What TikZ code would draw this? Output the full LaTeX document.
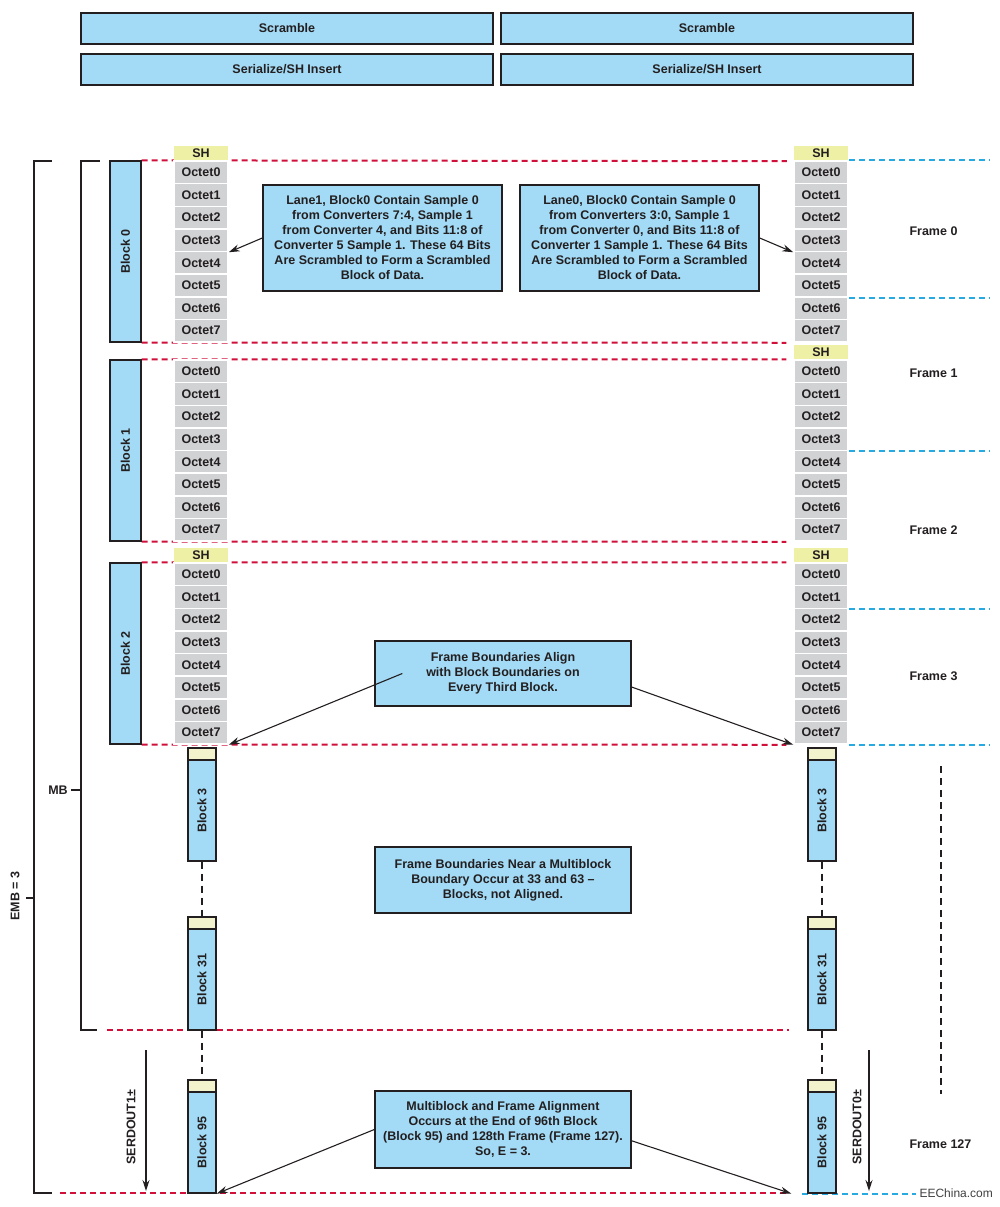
\documentclass[tikz,border=0pt]{standalone}
\usepackage{fontspec}
\setmainfont{Liberation Sans}
\usetikzlibrary{positioning,calc,backgrounds,arrows.meta}

\definecolor{boxblue}{HTML}{A3DAF5}
\definecolor{octgray}{HTML}{D1D2D4}
\definecolor{shyellow}{HTML}{EEF0A6}
\definecolor{capyellow}{HTML}{F2F2CC}
\definecolor{mbred}{HTML}{D0103A}
\definecolor{framecyan}{HTML}{27AAE1}
\definecolor{inkdark}{HTML}{231F20}

\begin{document}
\begin{tikzpicture}[
    x=1pt, y=-1pt,
    font=\fontsize{12.5}{15}\selectfont\bfseries,
    text=inkdark,
    wide/.style={rectangle, draw=inkdark, fill=boxblue, line width=1.4pt, minimum width=412pt, minimum height=31pt, inner sep=0pt},
    octet/.style={rectangle, draw=white, fill=octgray, line width=1.5pt, minimum width=54pt, minimum height=22.625pt, inner sep=0pt},
    shcell/.style={rectangle, fill=shyellow, minimum width=54pt, minimum height=15pt, inner sep=0pt},
    bigblock/.style={rectangle, draw=inkdark, fill=boxblue, line width=1.3pt, minimum width=31pt, minimum height=181pt, inner sep=0pt},
    smallblock/.style={rectangle, draw=inkdark, fill=boxblue, line width=1.3pt, minimum width=28pt, minimum height=101pt, inner sep=0pt},
    blockcap/.style={rectangle, draw=inkdark, fill=capyellow, line width=1.3pt, minimum width=28pt, minimum height=12pt, inner sep=0pt},
    note/.style={rectangle, draw=inkdark, fill=boxblue, line width=1.4pt, align=center, inner sep=0pt},
    redline/.style={draw=mbred, line width=2pt, dash pattern=on 6pt off 4pt},
    blueline/.style={draw=framecyan, line width=2pt, dash pattern=on 6pt off 4pt},
    linkdash/.style={draw=inkdark, line width=1.2pt, dash pattern=on 7pt off 5pt},
    bracket/.style={draw=inkdark, line width=1.3pt},
    arrow/.style={-{Stealth[length=11pt,width=7pt]}, draw=inkdark, line width=1.1pt}
]
    \useasboundingbox (0,0) rectangle (999,1207);

    % Top stages
    \node[wide] (scrL) at (287,28.5) {Scramble};
    \node[wide] (scrR) at (707,28.5) {Scramble};
    \node[wide] (serL) at (287,69.5) {Serialize/SH Insert};
    \node[wide] (serR) at (707,69.5) {Serialize/SH Insert};

    % Sync headers
    \node[shcell] (lsh0) at (201,153.5) {SH};
    \node[shcell] (lsh2) at (201,555.5) {SH};
    \node[shcell] (rsh0) at (821,153.5) {SH};
    \node[shcell] (rsh1) at (821,352.5) {SH};
    \node[shcell] (rsh2) at (821,555.5) {SH};

    % Octets of blocks 0 to 2
    \foreach \b/\ytop in {0/161,1/360,2/563} {
        \foreach \i in {0,...,7} {
            \node[octet] (l\b-\i) at (201,{\ytop+11.3125+\i*22.625}) {Octet\i};
            \node[octet] (r\b-\i) at (821,{\ytop+11.3125+\i*22.625}) {Octet\i};
        }
    }

    % Large blocks
    \node[bigblock] (blk0) at (125.5,251.5) {\rotatebox{90}{Block 0}};
    \node[bigblock] (blk1) at (125.5,450.5) {\rotatebox{90}{Block 1}};
    \node[bigblock] (blk2) at (125.5,653.5) {\rotatebox{90}{Block 2}};

    % Small blocks
    \foreach \n/\ytop in {3/748,31/917,95/1080} {
        \node[blockcap] (lcap\n) at (202,{\ytop+6}) {};
        \node[smallblock] (lblk\n) at (202,{\ytop+12+50.5}) {\rotatebox{90}{Block \n}};
        \node[blockcap] (rcap\n) at (822,{\ytop+6}) {};
        \node[smallblock] (rblk\n) at (822,{\ytop+12+50.5}) {\rotatebox{90}{Block \n}};
    }
    \draw[linkdash] (lblk3.south) -- (lcap31.north);
    \draw[linkdash] (lblk31.south) -- (lcap95.north);
    \draw[linkdash] (rblk3.south) -- (rcap31.north);
    \draw[linkdash] (rblk31.south) -- (rcap95.north);

    % Notes
    \node[note, minimum width=239pt, minimum height=106pt] (noteL) at (382.5,238)
        {Lane1, Block0 Contain Sample 0\\from Converters 7:4, Sample 1\\from Converter 4, and Bits 11:8 of\\Converter 5 Sample 1. These 64 Bits\\Are Scrambled to Form a Scrambled\\Block of Data.};
    \node[note, minimum width=239pt, minimum height=106pt] (noteR) at (639.5,238)
        {Lane0, Block0 Contain Sample 0\\from Converters 3:0, Sample 1\\from Converter 0, and Bits 11:8 of\\Converter 1 Sample 1. These 64 Bits\\Are Scrambled to Form a Scrambled\\Block of Data.};
    \node[note, minimum width=256pt, minimum height=65pt] (noteA) at (503,673.5)
        {Frame Boundaries Align\\with Block Boundaries on\\Every Third Block.};
    \node[note, minimum width=256pt, minimum height=66pt] (noteD) at (503,880)
        {Frame Boundaries Near a Multiblock\\Boundary Occur at 33 and 63 --\\Blocks, not Aligned.};
    \node[note, minimum width=256pt, minimum height=77pt] (noteE) at (503,1129.5)
        {Multiblock and Frame Alignment\\Occurs at the End of 96th Block\\(Block 95) and 128th Frame (Frame 127).\\So, E = 3.};

    \draw[arrow] (noteL.west) -- (l0-3.south east);
    \draw[arrow] (noteR.east) -- (r0-3.south west);
    \draw[arrow] ([xshift=28pt]noteA.west) -- (l2-7.south east);
    \draw[arrow] (noteA.-6) -- (r2-7.south west);
    \coordinate[left=16pt of rblk95.south west] (tipE);
    \draw[arrow] (noteE.west) -- (lblk95.south east);
    \draw[arrow] (noteE.-5) -- (tipE);

    % Frame labels
    \node[anchor=west] (fr0) at (906,231) {Frame 0};
    \node[anchor=west] (fr1) at (906,373) {Frame 1};
    \node[anchor=west] (fr2) at (906,530.5) {Frame 2};
    \node[anchor=west] (fr3) at (906,676) {Frame 3};
    \node[anchor=west] (fr127) at (906,1144) {Frame 127};
    \node[anchor=west, font=\fontsize{12}{14}\selectfont\mdseries, text=black!75] (eec) at (916,1193) {EEChina.com};

    % Vertical dashed continuation
    \coordinate (vtop) at (941,766);
    \coordinate (vbot) at (941,1094);
    \draw[linkdash] (vtop) -- (vbot);

    % Serial outputs
    \coordinate (s1top) at (146,1050);
    \coordinate (s1bot) at (146,1191);
    \draw[arrow] (s1top) -- (s1bot);
    \node (serd1) at (131,1127) {\rotatebox{90}{SERDOUT1±}};
    \coordinate (s0top) at (869,1050);
    \coordinate (s0bot) at (869,1191);
    \draw[arrow] (s0top) -- (s0bot);
    \node (serd0) at (857,1127) {\rotatebox{90}{SERDOUT0±}};

    % EMB and MB brackets
    \node (emb) at (15,896) {\rotatebox{90}{EMB = 3}};
    \draw[bracket] (52,161) -- (34,161) -- (34,1193) -- (52,1193);
    \draw[bracket] (34,898) -- (26,898);
    \node (mb) at (58,790) {MB};
    \draw[bracket] (100,161) -- (81,161) -- (81,1030) -- (97,1030);
    \draw[bracket] (81,790) -- (mb.east);
    \coordinate (mbfoot) at (81,1030);
    \coordinate (embfoot) at (34,1193);
    \coordinate (fedge) at (990,0);

    % Block and frame boundaries
    \begin{scope}[on background layer]
        \draw[redline, shorten >=7pt] (blk0.north east) -- (rsh0.south west);
        \draw[redline, shorten >=7pt] (blk0.south east) -- (r0-7.south west);
        \draw[redline, shorten >=7pt] (blk1.north east) -- (r1-0.north west);
        \draw[redline, shorten >=7pt] (blk1.south east) -- (r1-7.south west);
        \draw[redline, shorten >=7pt] (blk2.north east) -- (r2-0.north west);
        \draw[redline, shorten >=7pt] (blk2.south east) -- (r2-7.south west);
        \draw[redline, shorten <=26pt, shorten >=18pt] (mbfoot) -- (mbfoot -| rblk31.west);
        \draw[redline, shorten <=26pt, shorten >=18pt] (embfoot) -- (embfoot -| rblk95.west);
        \foreach \a in {r0-0.north east, r0-5.south east, r1-3.south east, r2-1.south east, r2-7.south east}
            \draw[blueline] (\a) -- (\a -| fedge);
        \draw[blueline] ([xshift=-5pt]rblk95.south west) -- (rblk95.south west -| eec.west);
    \end{scope}
\end{tikzpicture}
\end{document}
